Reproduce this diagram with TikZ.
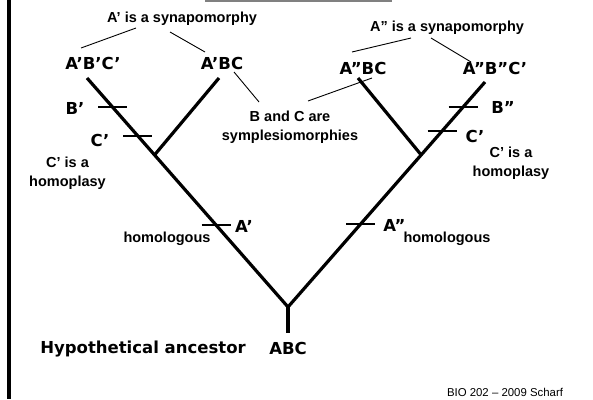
\documentclass[tikz,border=0pt]{standalone}
\usepackage{fontspec}
\setmainfont{Liberation Sans}
\newfontfamily\comic{DejaVu Sans}
\usetikzlibrary{calc}
\begin{document}
\begin{tikzpicture}[x=1pt,y=-1pt,
  branch/.style={line width=3.2pt},
  tickmark/.style={line width=2.6pt},
  ptr/.style={line width=0.9pt},
  ar/.style={font=\bfseries\fontsize{14.5}{19}\selectfont, inner sep=0pt, align=center},
  cs/.style={font=\comic\bfseries\fontsize{16.5}{20}\selectfont, inner sep=0pt},
  note/.style={font=\fontsize{11.4}{13}\selectfont, inner sep=0pt},
]
\useasboundingbox (0,0) rectangle (593,399);
% frame pieces
\coordinate (ftop) at (9,0);
\coordinate (fbot) at (9,399);
\draw[line width=3.3pt] (ftop) -- (fbot);
\coordinate (gl) at (205,0.8);
\coordinate (gr) at (392,0.8);
\draw[line width=1.6pt, black!50] (gl) -- (gr);

% tree
\coordinate (root) at (288,307);
\coordinate (stem) at (288,333);
\coordinate (lt) at (87,78);
\coordinate (rt) at (485,82);
\coordinate (li) at (219,78);
\coordinate (ri) at (358,78);
\coordinate (jl) at ($(root)!0.664!(lt)$);
\coordinate (jr) at ($(root)!0.676!(rt)$);
\draw[branch] (lt) -- (root) -- (rt);
\draw[branch] (root) -- (stem);
\draw[branch] (jl) -- (li);
\draw[branch] (jr) -- (ri);

% tick marks
\coordinate (tB1) at ($(root)!0.873!(lt)$);
\coordinate (tC1) at ($(root)!0.747!(lt)$);
\coordinate (tA1) at ($(root)!0.358!(lt)$);
\coordinate (tB2) at ($(root)!0.889!(rt)$);
\coordinate (tC2) at ($(root)!0.782!(rt)$);
\coordinate (tA2) at ($(root)!0.369!(rt)$);
\foreach \t in {tB1,tC1,tA1,tB2,tC2,tA2}
  \draw[tickmark] ([shift={(-14.5,0)}]\t) -- ([shift={(14.5,0)}]\t);

% tip labels
\node[cs] (n1) at (93,63) {A’B’C’};
\node[cs] (n2) at (222,63) {A’BC};
\node[cs] (n3) at (363,68) {A”BC};
\node[cs] (n4) at (495,68) {A”B”C’};
\node[cs] (lB1) at (75,108) {B’};
\node[cs] (lC1) at (100,140) {C’};
\node[cs] (lB2) at (503,107) {B”};
\node[cs] (lC2) at (475,136) {C’};
\node[cs] (lA1) at (244,226) {A’};
\node[cs] (lA2) at (394.5,225) {A”};
\node[cs] (anc) at (143,349.5) {Hypothetical ancestor};
\node[cs] (abc) at (288,348.5) {ABC};

% annotations
\node[ar] (syn1) at (182,19) {A’ is a synapomorphy};
\node[ar] (syn2) at (447,27.5) {A” is a synapomorphy};
\node[ar] (bc) at (290,127.5) {B and C are\\symplesiomorphies};
\node[ar] (h1) at (67.5,173) {C’ is a\\homoplasy};
\node[ar] (h2) at (511,163) {C’ is a\\homoplasy};
\node[ar] (hom1) at (167,238.5) {homologous};
\node[ar] (hom2) at (447,238.5) {homologous};
\node[note] (bio) at (505,392.5) {BIO 202 – 2009 Scharf};

% pointer lines
\draw[ptr] ([shift={(-46,9)}]syn1.center) -- ([shift={(-12,-15)}]n1.center);
\draw[ptr] ([shift={(-12,13)}]syn1.center) -- ([shift={(-17,-11)}]n2.center);
\draw[ptr] ([shift={(-36,10.5)}]syn2.center) -- ([shift={(-11,-16)}]n3.center);
\draw[ptr] ([shift={(-16,10.5)}]syn2.center) -- ([shift={(-24,-6)}]n4.center);
\draw[ptr] ([shift={(12,9)}]n2.center) -- ([shift={(-31,-25.5)}]bc.center);
\draw[ptr] ([shift={(9,10)}]n3.center) -- ([shift={(18,-26.5)}]bc.center);
\end{tikzpicture}
\end{document}
